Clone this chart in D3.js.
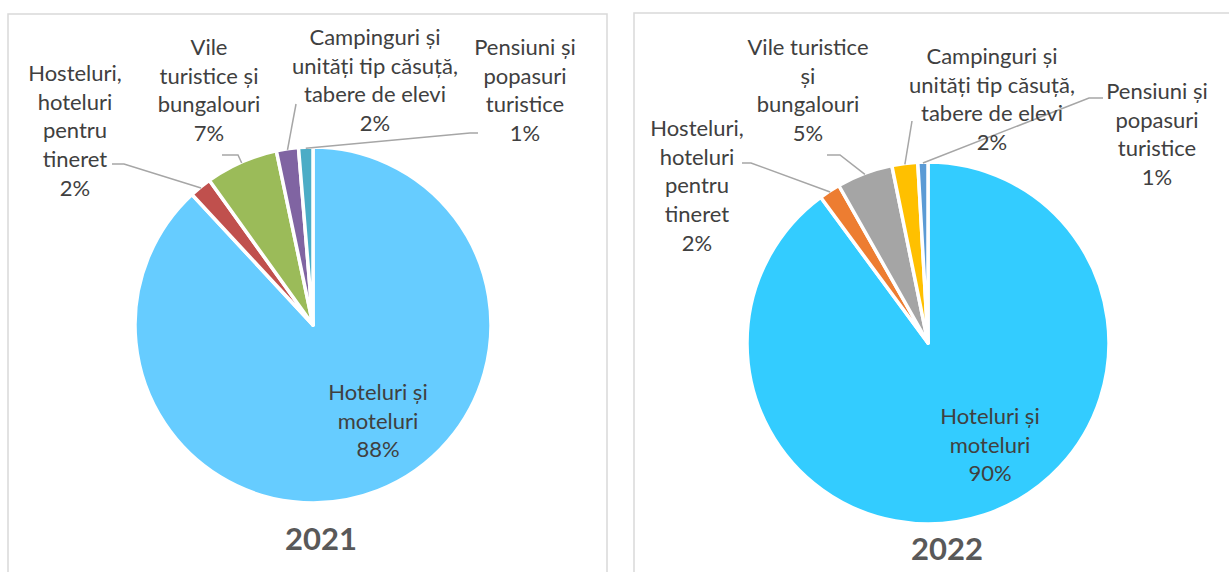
<!DOCTYPE html>
<html>
<head>
<meta charset="utf-8">
<script src="https://cdn.jsdelivr.net/npm/d3@7"></script>
<style>
  html, body { margin: 0; padding: 0; background: #fff; }
  svg { display: block; }
  .lbl { font-family: Lato, "Open Sans", sans-serif; font-size: 22px; fill: #404040; }
  .title { font-family: Lato, "Open Sans", sans-serif; font-size: 31px; font-weight: bold; fill: #595959; }
</style>
</head>
<body>
<div id="chart"></div>
<script>
(function () {

    var CATEGORIES = [
        "Hoteluri și moteluri",
        "Hosteluri, hoteluri pentru tineret",
        "Vile turistice și bungalouri",
        "Campinguri și unități tip căsuță, tabere de elevi",
        "Pensiuni și popasuri turistice"
    ];

    var YEARS       = ["2021", "2022"];
    var VALUES_2021 = [88.1, 2.0, 6.6, 2.0, 1.3];
    var VALUES_2022 = [89.9, 1.9, 5.0, 2.3, 0.9];

    // how each category name wraps in the two charts
    var LINES_2021 = [
        ["Hoteluri și", "moteluri"],
        ["Hosteluri,", "hoteluri", "pentru", "tineret"],
        ["Vile", "turistice și", "bungalouri"],
        ["Campinguri și", "unități tip căsuță,", "tabere de elevi"],
        ["Pensiuni și", "popasuri", "turistice"]
    ];
    var LINES_2022 = [
        ["Hoteluri și", "moteluri"],
        ["Hosteluri,", "hoteluri", "pentru", "tineret"],
        ["Vile turistice", "și", "bungalouri"],
        ["Campinguri și", "unități tip căsuță,", "tabere de elevi"],
        ["Pensiuni și", "popasuri", "turistice"]
    ];

    var COLORS_2021 = ["#66CCFF", "#C0504D", "#9BBB59", "#8064A2", "#4BACC6"];
    var COLORS_2022 = ["#33CCFF", "#ED7D31", "#A5A5A5", "#FFC000", "#5B9BD5"];

    /* ── layout ───────────────────────────────────────────────────── */
    var W = 1229, H = 572, LINE_H = 28.7;

    var CHARTS = [
        {
            year: YEARS[0], values: VALUES_2021, lines: LINES_2021, colors: COLORS_2021,
            box: { x: 8, y: 14, w: 599 },
            cx: 313, cy: 325, r: 178,
            title: { x: 321, y: 550 },
            // label: text centre x, first line centre y, leader start + elbow
            labels: [
                { x: 378, y: 392 },
                { x: 75,  y: 73,  lead: [[112, 164], [124, 164]] },
                { x: 209, y: 47,  lead: [[222, 155], [238, 155]] },
                { x: 375, y: 37,  lead: [[296, 104]] },
                { x: 525, y: 47,  lead: [[478, 133], [470, 133]] }
            ]
        },
        {
            year: YEARS[1], values: VALUES_2022, lines: LINES_2022, colors: COLORS_2022,
            box: { x: 634, y: 13, w: 600 },
            cx: 928, cy: 343, r: 181,
            title: { x: 947, y: 560 },
            labels: [
                { x: 990,  y: 416 },
                { x: 697,  y: 128, lead: [[742, 163], [751, 163]] },
                { x: 808,  y: 47,  lead: [[827, 155], [840, 155]] },
                { x: 992,  y: 56,  lead: [[912, 121]] },
                { x: 1157, y: 91,  lead: [[1103, 98], [1089, 98]] }
            ]
        }
    ];

    var svg = d3.select("#chart").append("svg")
        .attr("width", W).attr("height", H);

    var pie = d3.pie().sort(null).value(function (d) { return d; });

    CHARTS.forEach(function (c) {
        var total = d3.sum(c.values);

        // frame
        svg.append("rect")
            .attr("x", c.box.x).attr("y", c.box.y)
            .attr("width", c.box.w).attr("height", H + 20)
            .attr("fill", "none")
            .attr("stroke", "#D9D9D9")
            .attr("stroke-width", 1.5);

        var arc = d3.arc().innerRadius(0).outerRadius(c.r);
        var arcs = pie(c.values);

        var g = svg.append("g")
            .attr("transform", "translate(" + c.cx + "," + c.cy + ")");

        g.selectAll("path")
            .data(arcs)
            .enter()
            .append("path")
            .attr("d", arc)
            .attr("fill", function (d, i) { return c.colors[i]; })
            .attr("stroke", "#fff")
            .attr("stroke-width", 3.5)
            .attr("stroke-linejoin", "round");

        // leader lines
        arcs.forEach(function (a, i) {
            var L = c.labels[i];
            if (!L.lead) return;
            var mid = (a.startAngle + a.endAngle) / 2;
            var end = [c.cx + Math.sin(mid) * (c.r - 1), c.cy - Math.cos(mid) * (c.r - 1)];
            var pts = L.lead.concat([end]);
            svg.append("path")
                .attr("d", d3.line()(pts))
                .attr("fill", "none")
                .attr("stroke", "#A6A6A6")
                .attr("stroke-width", 1.5);
        });

        // labels
        arcs.forEach(function (a, i) {
            var L = c.labels[i];
            var lines = c.lines[i].concat([Math.round(a.data / total * 100) + "%"]);
            var t = svg.append("text")
                .attr("class", "lbl")
                .attr("text-anchor", "middle");
            lines.forEach(function (s, k) {
                t.append("tspan")
                    .attr("x", L.x)
                    .attr("y", L.y + k * LINE_H)
                    .attr("dy", "0.36em")
                    .text(s);
            });
        });

        svg.append("text")
            .attr("class", "title")
            .attr("x", c.title.x).attr("y", c.title.y)
            .attr("text-anchor", "middle")
            .text(c.year);
    });

}());
</script>
</body>
</html>
